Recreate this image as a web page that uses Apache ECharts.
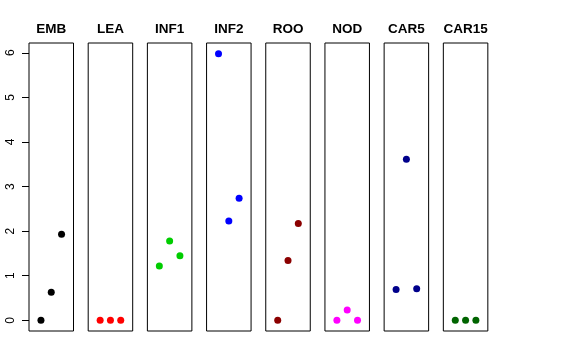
<!DOCTYPE html>
<html>
<head>
<meta charset="utf-8">
<script src="https://cdn.jsdelivr.net/npm/echarts@6/dist/echarts.min.js"></script>
<style>
html,body{margin:0;padding:0;background:#fff;}
#chart{width:576px;height:360px;}
</style>
</head>
<body>
<div id="chart"></div>
<script>
// ---- data ----
const panelNames = ["EMB", "LEA", "INF1", "INF2", "ROO", "NOD", "CAR5", "CAR15"];
const xPositions = [1, 2, 3];
const EMB   = [0, 0.63, 1.93];
const LEA   = [0, 0, 0];
const INF1  = [1.22, 1.78, 1.45];
const INF2  = [5.98, 2.23, 2.74];
const ROO   = [0, 1.34, 2.17];
const NOD   = [0, 0.23, 0];
const CAR5  = [0.69, 3.61, 0.71];
const CAR15 = [0, 0, 0];
const seriesValues = [EMB, LEA, INF1, INF2, ROO, NOD, CAR5, CAR15];
const yTickValues = [0, 1, 2, 3, 4, 5, 6];

// ---- styles ----
const colors = ["#000000", "#FF0000", "#00CD00", "#0000FF", "#8B0000", "#FF00FF", "#00008B", "#006400"];
const FONT = "Liberation Sans, Arial, Helvetica, sans-serif";

// ---- layout ----
const panelLeft0 = 29, panelStep = 59.19, panelWidth = 44.5;
const panelTop = 43, panelHeight = 288;
const yMin = -0.239, yMax = 6.219;
const xMin = -0.16, xMax = 4.16;
const yPxPerUnit = panelHeight / (yMax - yMin);

const grids = [], xAxes = [], yAxes = [], series = [], titles = [];
panelNames.forEach((name, i) => {
  const left = panelLeft0 + i * panelStep;
  grids.push({left: left, top: panelTop, width: panelWidth, height: panelHeight,
    show: true, borderColor: "#000", borderWidth: 1, backgroundColor: "transparent", containLabel: false});
  xAxes.push({type: "value", gridIndex: i, min: xMin, max: xMax, show: false});
  yAxes.push({type: "value", gridIndex: i, min: yMin, max: yMax, show: false});
  series.push({
    type: "scatter", xAxisIndex: i, yAxisIndex: i,
    data: xPositions.map((x, k) => [x, seriesValues[i][k]]),
    symbol: "circle", symbolSize: 7,
    itemStyle: {color: colors[i], opacity: 1},
    silent: true, animation: false
  });
  titles.push({
    text: name, left: left + panelWidth / 2, top: 22, textAlign: "center", padding: 0,
    textStyle: {fontFamily: FONT, fontWeight: "bold", fontSize: 13.5, color: "#000"}
  });
});

// separate grid for the shared y axis (ticks 0..6)
const axisTop = panelTop + (yMax - 6) * yPxPerUnit;
const axisHeight = 6 * yPxPerUnit;
grids.push({left: panelLeft0, top: axisTop, width: 1, height: axisHeight, show: false});
xAxes.push({type: "value", gridIndex: 8, min: 0, max: 1, show: false});
yAxes.push({
  type: "value", gridIndex: 8, min: yTickValues[0], max: yTickValues[yTickValues.length - 1], interval: 1,
  axisLine: {show: false},
  axisTick: {show: true, length: 7, lineStyle: {color: "#000", width: 1}},
  splitLine: {show: false},
  axisLabel: {show: true, rotate: 90, margin: 12, fontFamily: FONT, fontSize: 12, color: "#000"}
});

const chart = echarts.init(document.getElementById("chart"), null, {renderer: "canvas"});
chart.setOption({
  animation: false,
  backgroundColor: "#fff",
  title: titles,
  grid: grids,
  xAxis: xAxes,
  yAxis: yAxes,
  series: series
});
</script>
</body>
</html>
